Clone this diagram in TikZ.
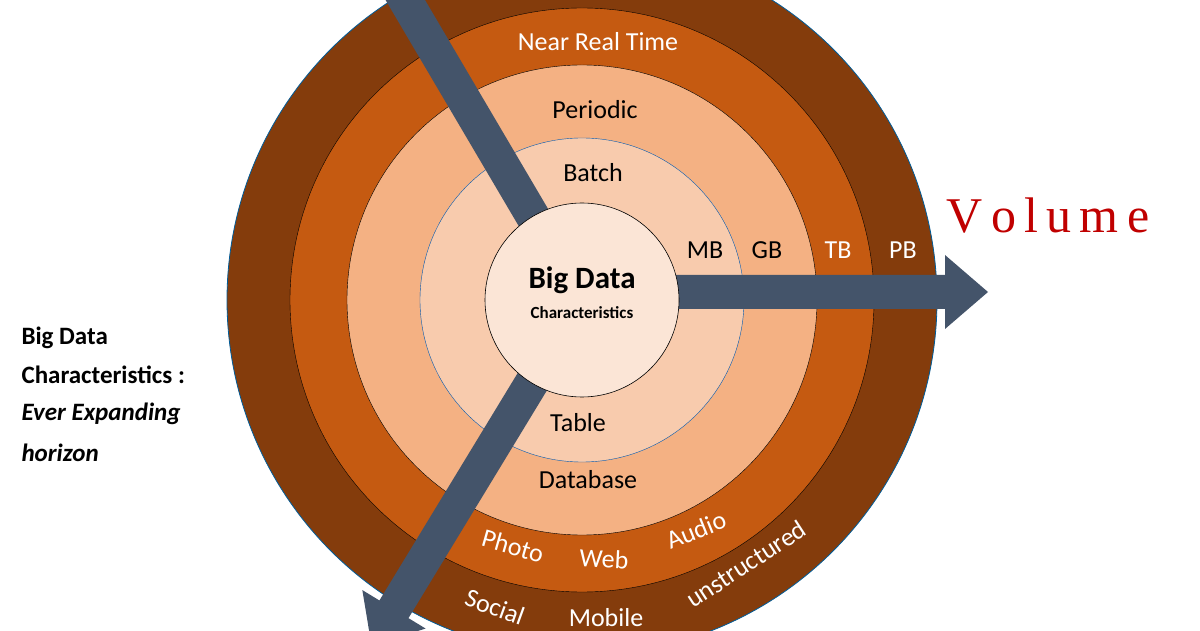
\documentclass[tikz,border=0pt]{standalone}
\usepackage{fontspec}
\setmainfont{Carlito}
\newfontfamily\serifv{Liberation Serif}
\definecolor{c1}{HTML}{843C0C}
\definecolor{c2}{HTML}{C55A11}
\definecolor{c3}{HTML}{F4B183}
\definecolor{c4}{HTML}{F8CBAD}
\definecolor{c5}{HTML}{FBE5D6}
\definecolor{arr}{HTML}{44546A}
\definecolor{vred}{HTML}{C00000}
\tikzset{
  lbl/.style={font=\fontsize{26}{28}\selectfont},
  wlbl/.style={lbl,text=white},
  side/.style={font=\bfseries\fontsize{25}{29}\selectfont,anchor=west},
  big/.style={text=vred,font=\serifv\fontsize{50}{54}\selectfont}
}
\begin{document}
\begin{tikzpicture}[x=1pt,y=1pt]
\useasboundingbox (0,0) rectangle (1200,630);
\clip (0,0) rectangle (1200,630);
\coordinate (c) at (582,330);
\fill[c1,draw=blue!40!cyan!60!black,line width=0.8pt] (c) circle (355);
\fill[c2,draw=black] (c) circle (292);
\fill[c3,draw=black] (c) circle (235);
\fill[c4,draw=blue!50!cyan!70!black] (c) circle (162);
% arrows
\begin{scope}[shift={(c)},rotate=120.5]
\fill[arr] (0,-17) -- (420,-17) -- (420,17) -- (0,17) -- cycle;
\end{scope}
\begin{scope}[shift={(582,338)}]
\fill[arr] (0,-17) -- (363,-17) -- (363,-37) -- (406,0) -- (363,37) -- (363,17) -- (0,17) -- cycle;
\end{scope}
\begin{scope}[shift={(c)},rotate=238.7]
\fill[arr] (0,-17) -- (362,-17) -- (362,-37) -- (405,0) -- (362,37) -- (362,17) -- (0,17) -- cycle;
\end{scope}
\node[circle,fill=c5,draw=black,line width=0.6pt,minimum size=194pt,inner sep=0pt,align=center] (core) at (c) {};
\node[font=\bfseries\fontsize{31}{32}\selectfont] (bd) at (582,350) {Big Data};
\node[font=\bfseries\fontsize{17}{18}\selectfont] (ch) at (582,317) {Characteristics};
\node[wlbl] (nrt) at (598,588) {Near Real Time};
\node[lbl] (per) at (595,520) {Periodic};
\node[lbl] (bat) at (593,457) {Batch};
\node[lbl] (mb) at (705,380) {MB};
\node[lbl] (gb) at (767,380) {GB};
\node[wlbl] (tb) at (838,380) {TB};
\node[wlbl] (pb) at (903,380) {PB};
\node[lbl] (tab) at (578,207) {Table};
\node[lbl] (db) at (588,150) {Database};
\node[wlbl,rotate=-16] (ph) at (513,84) {Photo};
\node[wlbl,rotate=-3] (web) at (604,71) {Web};
\node[wlbl,rotate=22] (aud) at (696,100) {Audio};
\node[wlbl,rotate=-20] (soc) at (495,23) {Social};
\node[wlbl,rotate=0] (mob) at (606,12) {Mobile};
\node[wlbl,rotate=33] (uns) at (746,66) {unstructured};
\node[big] (vol) at (1048,414) {V\,o\,l\,u\,m\,e};
\node[big,anchor=base east] (vel) at (352,641) {V\,e\,l\,o\,c\,i\,t\,y};
\node[side] (s1) at (18,292) {Big Data};
\node[side] (s2) at (18,255) {Characteristics :};
\node[side,font=\bfseries\itshape\fontsize{25}{29}\selectfont] (s3) at (18,216) {Ever Expanding};
\node[side,font=\bfseries\itshape\fontsize{25}{29}\selectfont] (s4) at (18,177) {horizon};
\end{tikzpicture}
\end{document}
